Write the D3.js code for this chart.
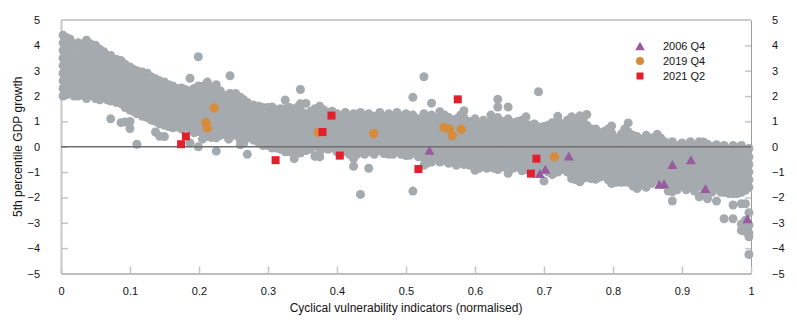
<!DOCTYPE html>
<html><head><meta charset="utf-8">
<script src="https://cdn.jsdelivr.net/npm/d3@7"></script>
<style>
body{margin:0;background:#fff;}
svg{display:block;font-family:"Liberation Sans",Arial,Helvetica,sans-serif;}
</style></head>
<body><svg id="chart" width="797" height="325"></svg>
<script>
// ---- data ----
const xTicks = [0,0.1,0.2,0.3,0.4,0.5,0.6,0.7,0.8,0.9,1];
const xTickLabels = ["0","0.1","0.2","0.3","0.4","0.5","0.6","0.7","0.8","0.9","1"];
const yTicks = [-5,-4,-3,-2,-1,0,1,2,3,4,5];
const yTickLabels = ["\u22125","\u22124","\u22123","\u22122","\u22121","0","1","2","3","4","5"];
const xTitle = "Cyclical vulnerability indicators (normalised)";
const yTitle = "5th percentile GDP growth";
const seriesNames = ["2006 Q4","2019 Q4","2021 Q2"];

// grey cloud, part A: columns of [x, [y values]]
const greyColsA = [
 [0.003,[4.4,4.1,3.8,3.5,3.2,2.9,2.6,2.3,2.0]],
 [0.013,[4.25,3.95,3.65,3.35,3.05,2.75,2.45,2.15]],
 [0.025,[4.1,3.8,3.5,3.2,2.9,2.6,2.3,2.0]],
 [0.037,[4.2,3.95,3.65,3.35,3.05,2.75,2.45,2.15,1.9]],
 [0.05,[4.0,3.7,3.4,3.1,2.8,2.5,2.2,1.9]],
 [0.062,[3.75,3.45,3.15,2.85,2.55,2.25,1.95]],
 [0.072,[3.6,3.3,3.0,2.7,2.4,2.1,1.8,1.1]],
 [0.087,[3.4,3.1,2.85,2.55,2.25,1.95,1.7,0.95]],
 [0.1,[3.15,2.9,2.6,2.3,2.0,1.7,1.45,1.0,0.72]],
 [0.11,[3.0,2.75,2.45,2.15,1.85,1.55,1.3,0.1]],
 [0.125,[2.9,2.6,2.3,2.0,1.7,1.4,1.15]],
 [0.137,[2.68,2.45,2.15,1.85,1.55,1.25,1.0,0.58]],
 [0.15,[2.55,2.3,2.0,1.7,1.4,1.1,0.85,0.4]],
 [0.162,[2.4,2.15,1.85,1.55,1.25,0.95,0.75]],
 [0.175,[2.32,2.05,1.75,1.45,1.15,0.85,0.7]],
 [0.187,[2.7,2.2,1.9,1.6,1.3,1.0,0.7,0.15]],
 [0.199,[3.55,2.4,2.1,1.8,1.5,1.2,0.9,0.6,0.0]],
 [0.212,[2.55,2.2,1.9,1.6,1.3,1.0,0.7,0.4]],
 [0.225,[2.45,2.1,1.8,1.5,1.2,0.9,0.6,0.35,-0.17]],
 [0.237,[2.0,1.7,1.4,1.1,0.8,0.5]],
 [0.245,[2.8,2.1,1.85,1.55,1.25,0.95,0.65,0.4]],
 [0.26,[1.95,1.7,1.4,1.1,0.8,0.5,0.25,0.08]],
 [0.27,[1.75,1.5,1.2,0.9,0.6,0.35,-0.3]],
 [0.287,[1.6,1.3,1.0,0.7,0.4,0.15]],
 [0.3,[1.55,1.25,0.95,0.65,0.35,0.05]],
 [0.312,[1.45,1.15,0.85,0.55,0.25,-0.05]],
 [0.325,[1.84,1.5,1.2,0.9,0.6,0.3,0.0,-0.2]],
 [0.338,[1.4,1.1,0.8,0.5,0.2,-0.1,-0.47]],
 [0.347,[2.26,1.7,1.45,1.15,0.85,0.55,0.25,-0.05,-0.25]],
 [0.362,[1.4,1.1,0.8,0.5,0.2,-0.1]],
 [0.375,[1.6,1.3,1.0,0.7,0.4,0.1,-0.2,-0.4]],
 [0.387,[1.35,1.05,0.75,0.45,0.15,-0.1]],
 [0.4,[1.3,1.0,0.7,0.4,0.1,-0.2]],
 [0.412,[1.35,1.05,0.75,0.45,0.15,-0.15]],
 [0.424,[1.3,1.0,0.7,0.4,0.1,-0.2,-0.47,-0.77]],
 [0.434,[1.35,1.05,0.75,0.45,0.15,-0.15,-1.88]],
 [0.446,[1.3,1.0,0.7,0.4,0.1,-0.2,-0.85]],
 [0.462,[1.35,1.05,0.75,0.45,0.15,-0.15]],
 [0.475,[1.3,1.0,0.7,0.4,0.1,-0.2,-0.3]],
 [0.487,[1.35,1.05,0.75,0.45,0.15,-0.15]],
 [0.5,[1.3,1.0,0.7,0.4,0.1,-0.2,-0.35]],
 [0.51,[1.95,1.25,0.95,0.65,0.35,0.05,-0.25,-1.75]],
 [0.526,[2.76,1.3,1.0,0.7,0.4,0.1,-0.2,-0.45,-0.73]],
 [0.537,[1.72,1.25,0.95,0.65,0.35,0.05,-0.25,-0.6]],
 [0.549,[1.38,1.1,0.8,0.5,0.2,-0.1,-0.4,-0.6]],
 [0.562,[1.15,0.85,0.55,0.25,-0.05,-0.35,-0.65]],
 [0.573,[1.1,0.8,0.5,0.2,-0.1,-0.4,-0.73]],
 [0.584,[1.42,1.15,0.85,0.55,0.25,-0.05,-0.35,-0.7]],
 [0.6,[1.1,0.8,0.5,0.2,-0.1,-0.4,-0.7,-0.93]],
 [0.612,[1.05,0.75,0.45,0.15,-0.15,-0.45,-0.75]],
 [0.623,[1.25,1.0,0.7,0.4,0.1,-0.2,-0.5,-0.8]],
 [0.633,[1.87,1.57,1.15,0.85,0.55,0.25,-0.05,-0.35,-0.65,-0.9]],
 [0.648,[1.57,1.1,0.8,0.5,0.2,-0.1,-0.4,-0.7,-1.05]],
 [0.662,[1.0,0.7,0.4,0.1,-0.2,-0.5,-0.8]],
 [0.674,[1.18,0.9,0.6,0.3,0.0,-0.3,-0.6,-0.9]],
 [0.686,[0.9,0.65,0.35,0.05,-0.25,-0.55,-0.85,-1.05]],
 [0.692,[2.17]],
 [0.7,[0.8,0.6,0.3,0.0,-0.3,-0.6,-0.9,-1.35]],
 [0.712,[0.95,0.65,0.35,0.05,-0.25,-0.55,-0.85,-1.1]],
 [0.72,[1.2,1.07]],
 [0.728,[0.9,0.6,0.3,0.0,-0.3,-0.6,-0.9]],
 [0.74,[1.18,0.95,0.65,0.35,0.05,-0.25,-0.55,-0.85,-1.1,-1.26]],
 [0.752,[1.22,0.95,0.65,0.35,0.05,-0.25,-0.55,-0.85,-1.15,-1.38]],
 [0.762,[1.27,0.85,0.55,0.25,-0.05,-0.35,-0.65,-0.95,-1.2]],
 [0.775,[0.7,0.4,0.1,-0.2,-0.5,-0.8,-1.1,-1.28]],
 [0.787,[0.6,0.3,0.0,-0.3,-0.6,-0.9,-1.15]],
 [0.798,[0.82,0.55,0.25,-0.05,-0.35,-0.65,-0.95,-1.25,-1.45]],
 [0.812,[0.5,0.2,-0.1,-0.4,-0.7,-1.0,-1.3,-1.4]],
 [0.822,[0.94,0.59,0.35,0.05,-0.25,-0.55,-0.85,-1.15,-1.4]],
 [0.835,[0.4,0.1,-0.2,-0.5,-0.8,-1.1,-1.4,-1.65]],
 [0.848,[0.45,0.15,-0.15,-0.45,-0.75,-1.05,-1.35,-1.6]],
 [0.864,[0.49,0.25,-0.05,-0.35,-0.65,-0.95,-1.25]],
 [0.875,[0.2,-0.1,-0.4,-0.7,-1.0,-1.3,-1.5]],
 [0.886,[0.2,-0.1,-0.4,-0.7,-1.0,-1.3,-1.55,-1.78,-2.14]],
 [0.9,[0.15,-0.15,-0.45,-0.75,-1.05,-1.35,-1.55]],
 [0.912,[0.2,-0.1,-0.4,-0.7,-1.0,-1.3,-1.6]],
 [0.925,[0.2,-0.05,-0.35,-0.65,-0.95,-1.25,-1.55,-1.98]],
 [0.937,[0.1,-0.2,-0.5,-0.8,-1.1,-1.4,-1.7,-2.05]],
 [0.95,[0.08,-0.15,-0.45,-0.75,-1.05,-1.35,-1.65,-2.14]],
 [0.961,[0.05,-0.3,-0.6,-0.9,-1.2,-1.5,-1.8,-2.84]],
 [0.974,[0.05,-0.3,-0.6,-0.9,-1.2,-1.5,-1.85,-2.3,-2.84]],
 [0.986,[0.05,-0.35,-0.65,-0.95,-1.25,-1.55,-1.8,-2.25,-3.05,-3.3]],
 [0.997,[-0.07,-0.4,-0.7,-1.0,-1.3,-1.6,-2.6,-3.1,-3.4,-3.55,-4.25]]
];
// grey cloud, part B: in-between columns
const greyColsB = [
 [0.008,[4.3,4.0,3.65,3.35,3.05,2.75,2.45,2.15,2.05]],
 [0.019,[4.05,3.7,3.4,3.1,2.8,2.5,2.2,2.0]],
 [0.031,[4.05,3.8,3.5,3.2,2.9,2.6,2.3,2.05]],
 [0.043,[4.05,3.85,3.55,3.25,2.95,2.65,2.35,2.05]],
 [0.056,[3.85,3.55,3.25,2.95,2.65,2.35,2.05,1.85]],
 [0.067,[3.6,3.3,3.0,2.7,2.4,2.1,1.85]],
 [0.08,[3.45,3.15,2.85,2.55,2.25,1.95,1.75]],
 [0.093,[3.25,2.95,2.7,2.4,2.1,1.8,1.55,0.98]],
 [0.105,[3.05,2.8,2.5,2.2,1.9,1.6,1.4]],
 [0.118,[2.95,2.65,2.35,2.05,1.75,1.45,1.2]],
 [0.131,[2.75,2.5,2.2,1.9,1.6,1.3,1.05]],
 [0.143,[2.6,2.35,2.05,1.75,1.45,1.15,0.9,0.41]],
 [0.156,[2.45,2.2,1.9,1.6,1.3,1.0,0.8]],
 [0.168,[2.3,2.0,1.7,1.4,1.1,0.85,0.78]],
 [0.181,[2.25,1.95,1.65,1.35,1.05,0.8]],
 [0.193,[2.3,2.0,1.7,1.4,1.1,0.8,0.55]],
 [0.205,[2.39,2.05,1.75,1.45,1.15,0.85,0.55,0.3]],
 [0.218,[2.35,2.0,1.7,1.4,1.1,0.8,0.5,0.36]],
 [0.231,[2.2,1.9,1.6,1.3,1.0,0.7,0.45]],
 [0.243,[2.05,1.75,1.45,1.15,0.85,0.55,0.3]],
 [0.253,[2.1,1.8,1.5,1.2,0.9,0.6,0.45]],
 [0.265,[1.85,1.55,1.25,0.95,0.65,0.4,0.15]],
 [0.279,[1.65,1.4,1.1,0.8,0.5,0.26]],
 [0.293,[1.55,1.2,0.9,0.6,0.3,0.05]],
 [0.306,[1.57,1.35,1.05,0.75,0.45,0.15,-0.05]],
 [0.318,[1.5,1.3,1.0,0.7,0.4,0.1,-0.1]],
 [0.331,[1.55,1.25,0.95,0.65,0.35,0.05,-0.2]],
 [0.342,[1.55,1.25,0.95,0.65,0.35,0.05,-0.25]],
 [0.355,[1.71,1.3,1.0,0.7,0.4,0.1,-0.15]],
 [0.368,[1.5,1.25,0.95,0.65,0.35,0.05,-0.38]],
 [0.381,[1.45,1.15,0.85,0.55,0.25,-0.05]],
 [0.393,[1.4,1.15,0.85,0.55,0.25,-0.05]],
 [0.406,[1.2,0.9,0.6,0.3,0.0,-0.25]],
 [0.418,[1.2,0.9,0.6,0.3,0.0,-0.3]],
 [0.429,[1.2,0.9,0.6,0.3,0.0,-0.3]],
 [0.44,[1.2,0.9,0.6,0.3,0.0,-0.3]],
 [0.454,[1.2,0.9,0.6,0.3,0.0,-0.3]],
 [0.468,[1.2,0.9,0.6,0.3,0.0,-0.27]],
 [0.481,[1.2,0.9,0.6,0.3,0.0,-0.3]],
 [0.493,[1.2,0.9,0.6,0.3,0.0,-0.3]],
 [0.505,[1.15,0.85,0.55,0.25,-0.05,-0.34]],
 [0.518,[1.1,0.8,0.5,0.2,-0.1,-0.4]],
 [0.531,[1.15,0.85,0.55,0.25,-0.05,-0.35,-0.64]],
 [0.543,[1.1,0.8,0.5,0.2,-0.1,-0.4]],
 [0.556,[1.25,0.95,0.65,0.35,0.05,-0.25,-0.55]],
 [0.567,[1.0,0.7,0.4,0.1,-0.2,-0.5]],
 [0.579,[1.25,0.95,0.65,0.35,0.05,-0.25,-0.55]],
 [0.592,[1.0,0.7,0.4,0.1,-0.2,-0.5,-0.73]],
 [0.606,[0.95,0.65,0.35,0.05,-0.25,-0.55,-0.85]],
 [0.617,[0.9,0.6,0.3,0.0,-0.3,-0.6,-0.85]],
 [0.628,[1.0,0.85,0.55,0.25,-0.05,-0.35,-0.65,-0.85]],
 [0.64,[1.0,0.7,0.4,0.1,-0.2,-0.5,-0.8]],
 [0.655,[0.95,0.65,0.35,0.05,-0.25,-0.55,-0.85]],
 [0.668,[1.05,0.75,0.45,0.15,-0.15,-0.45,-0.75,-0.95]],
 [0.68,[0.85,0.75,0.45,0.15,-0.15,-0.45,-0.75]],
 [0.693,[0.78,0.5,0.2,-0.1,-0.4,-0.7,-1.0]],
 [0.706,[0.85,0.5,0.2,-0.1,-0.4,-0.7,-1.0]],
 [0.72,[0.8,0.5,0.2,-0.1,-0.4,-0.7,-1.0]],
 [0.734,[1.05,0.75,0.45,0.15,-0.15,-0.45,-0.75,-1.0]],
 [0.746,[1.1,0.8,0.5,0.2,-0.1,-0.4,-0.7,-1.0,-1.3]],
 [0.757,[1.1,0.8,0.5,0.2,-0.1,-0.4,-0.7,-1.0,-1.25]],
 [0.768,[0.7,0.4,0.1,-0.2,-0.5,-0.8,-1.1,-1.26]],
 [0.781,[0.55,0.25,-0.05,-0.35,-0.65,-0.95,-1.2]],
 [0.793,[0.7,0.45,0.15,-0.15,-0.45,-0.75,-1.05,-1.3]],
 [0.805,[0.35,0.05,-0.25,-0.55,-0.85,-1.15,-1.4]],
 [0.817,[0.7,0.35,0.05,-0.25,-0.55,-0.85,-1.15,-1.39]],
 [0.829,[0.45,0.25,-0.05,-0.35,-0.65,-0.95,-1.25,-1.55]],
 [0.842,[0.3,0.0,-0.3,-0.6,-0.9,-1.2,-1.5]],
 [0.856,[0.35,0.05,-0.25,-0.55,-0.85,-1.15,-1.45]],
 [0.869,[0.35,0.05,-0.25,-0.55,-0.85,-1.15,-1.4]],
 [0.88,[0.1,-0.2,-0.5,-0.8,-1.1,-1.4,-1.75]],
 [0.893,[0.05,-0.25,-0.55,-0.85,-1.15,-1.45,-1.7]],
 [0.906,[0.05,-0.25,-0.55,-0.85,-1.15,-1.45,-1.7]],
 [0.918,[0.05,-0.25,-0.55,-0.85,-1.15,-1.45,-1.75]],
 [0.931,[0.19,-0.1,-0.4,-0.7,-1.0,-1.3,-1.6,-1.85]],
 [0.943,[0.0,-0.3,-0.6,-0.9,-1.2,-1.5,-1.8]],
 [0.956,[-0.05,-0.3,-0.6,-0.9,-1.2,-1.5,-1.79]],
 [0.968,[-0.1,-0.45,-0.75,-1.05,-1.35,-1.65,-1.85]],
 [0.98,[-0.15,-0.45,-0.75,-1.05,-1.35,-1.65,-1.85]],
 [0.992,[-0.2,-0.55,-0.85,-1.15,-1.45,-1.72,-2.25,-2.9,-3.35]]
];

// highlighted quarters
const s2006x = [0.534,0.736,0.702,0.694,0.886,0.913,0.867,0.874,0.934,0.995];
const s2006y = [-0.14,-0.36,-0.89,-1.06,-0.70,-0.51,-1.48,-1.46,-1.65,-2.84];
const s2019x = [0.222,0.210,0.212,0.373,0.453,0.555,0.563,0.567,0.580,0.715];
const s2019y = [1.53,0.96,0.74,0.56,0.52,0.76,0.69,0.44,0.69,-0.40];
const s2021x = [0.174,0.181,0.392,0.379,0.311,0.404,0.518,0.575,0.689,0.681];
const s2021y = [0.10,0.41,1.23,0.58,-0.53,-0.35,-0.88,1.87,-0.47,-1.06];

// ---- drawing ----
const M = {left:61, right:751, top:20, bottom:273.5};
const x = d3.scaleLinear().domain([0,1]).range([M.left, M.right]);
const y = d3.scaleLinear().domain([-5,5]).range([M.bottom, M.top]);
const svg = d3.select("#chart");

const COL = {grey:"#a5aaae", purple:"#9a5aa0", orange:"#d68c3c", red:"#e31e2d"};

// frame
svg.append("line").attr("x1",M.left).attr("x2",M.right).attr("y1",M.top).attr("y2",M.top)
  .attr("stroke","#9c9c9c").attr("stroke-width",1);

const fmtY = d => yTickLabels[yTicks.indexOf(d)];
const fmtX = d => xTickLabels[xTicks.indexOf(d)];

const gL = svg.append("g").attr("transform",`translate(${M.left},0)`)
  .call(d3.axisLeft(y).tickValues(yTicks).tickFormat(fmtY).tickSizeInner(-7).tickSizeOuter(0).tickPadding(21));
const gR = svg.append("g").attr("transform",`translate(${M.right},0)`)
  .call(d3.axisRight(y).tickValues(yTicks).tickFormat(fmtY).tickSizeInner(-6).tickSizeOuter(0).tickPadding(21));
const gB = svg.append("g").attr("transform",`translate(0,${M.bottom})`)
  .call(d3.axisBottom(x).tickValues(xTicks).tickFormat(fmtX).tickSizeInner(-7).tickSizeOuter(0).tickPadding(14));

[gL,gR,gB].forEach(g=>{
  g.attr("font-family",null);
  g.selectAll("text").attr("font-size",11).attr("fill","#111");
  g.selectAll(".tick line").attr("stroke","#c4c4c4").attr("stroke-width",1.5);
});
gL.select(".domain").attr("stroke","#c8c8c8").attr("stroke-width",2);
gB.select(".domain").attr("stroke","#a8a8a8").attr("stroke-width",1.5);
gR.select(".domain").attr("stroke","#9c9c9c").attr("stroke-width",1);
gL.selectAll(".tick").filter(d=>d===-5||d===5).select("line").remove();
gR.selectAll(".tick").filter(d=>d===-5||d===5).select("line").remove();

// grey points
const greyPts = [];
greyColsA.concat(greyColsB).forEach(([cx,ys])=>ys.forEach(cy=>greyPts.push([cx,cy])));
svg.append("g").selectAll("circle").data(greyPts).join("circle")
  .attr("cx",d=>x(d[0])).attr("cy",d=>y(d[1])).attr("r",4.5).attr("fill",COL.grey);

// zero line
svg.append("line").attr("x1",M.left).attr("x2",M.right).attr("y1",y(0)).attr("y2",y(0))
  .attr("stroke","#6e6e6e").attr("stroke-width",1.6);

// highlighted series
const tri = (cx,cy,w,h)=>`M${cx-w/2},${cy+h/2}L${cx+w/2},${cy+h/2}L${cx},${cy-h/2}Z`;
const d2019 = s2019x.map((v,i)=>[v,s2019y[i]]);
const d2021 = s2021x.map((v,i)=>[v,s2021y[i]]);
const d2006 = s2006x.map((v,i)=>[v,s2006y[i]]);
svg.append("g").selectAll("circle").data(d2019).join("circle")
  .attr("cx",d=>x(d[0])).attr("cy",d=>y(d[1])).attr("r",4.7).attr("fill",COL.orange);
svg.append("g").selectAll("rect").data(d2021).join("rect")
  .attr("x",d=>x(d[0])-4).attr("y",d=>y(d[1])-4).attr("width",8).attr("height",8).attr("fill",COL.red);
svg.append("g").selectAll("path").data(d2006).join("path")
  .attr("d",d=>tri(x(d[0]),y(d[1]),10,9)).attr("fill",COL.purple);

// legend
const lg = svg.append("g");
const rows = [46,61,76];
lg.append("path").attr("d",tri(640,rows[0],9.5,8.5)).attr("fill",COL.purple);
lg.append("circle").attr("cx",640).attr("cy",rows[1]).attr("r",4).attr("fill",COL.orange);
lg.append("rect").attr("x",636.5).attr("y",rows[2]-3.5).attr("width",7).attr("height",7).attr("fill",COL.red);
seriesNames.forEach((n,i)=>{
  lg.append("text").attr("x",663).attr("y",rows[i]).attr("dy","0.35em")
    .attr("font-size",11).attr("fill","#111").text(n);
});

// titles
svg.append("text").attr("x",(M.left+M.right)/2).attr("y",312).attr("text-anchor","middle")
  .attr("font-size",12).attr("fill","#111").text(xTitle);
svg.append("text").attr("transform",`translate(22,${(M.top+M.bottom)/2}) rotate(-90)`)
  .attr("text-anchor","middle").attr("font-size",12).attr("fill","#111").text(yTitle);
</script></body></html>
